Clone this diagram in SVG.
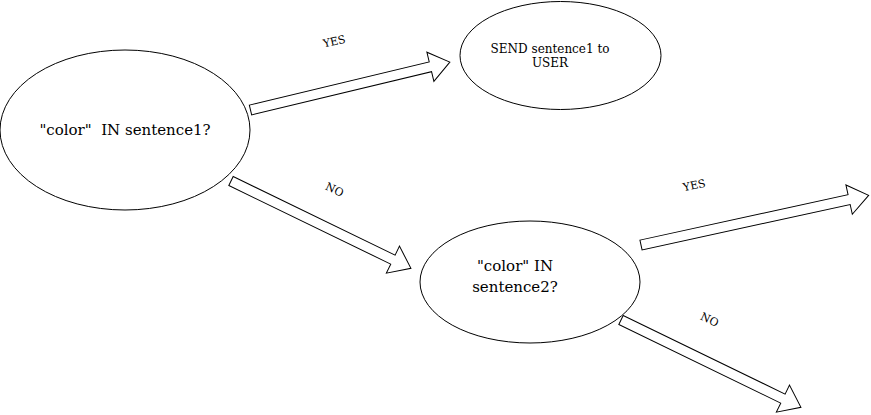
<svg xmlns="http://www.w3.org/2000/svg" width="871" height="415" viewBox="0 0 871 415">
<style>
.n{fill:#fff;stroke:#000;stroke-width:1}
.a{fill:#fff;stroke:#000;stroke-width:1}
.t{font-family:"DejaVu Serif",serif;fill:#000;text-anchor:middle}
.l{font-family:"DejaVu Serif",serif;fill:#000;font-size:11px;text-anchor:middle}
</style>
<defs>
<polygon id="arr200" points="0,-5 180,-5 180,-15 200,0 180,15 180,5 0,5"/>
<polygon id="arr233" points="0,-5 213,-5 213,-15 233,0 213,15 213,5 0,5"/>
<polygon id="arr205" points="0,-5 185,-5 185,-15 205,0 185,15 185,5 0,5"/>
</defs>
<rect width="871" height="415" fill="#fff"/>
<g id="connectors">
<use href="#arr205" class="a" transform="translate(250.5,110) rotate(-13.5)"/>
<use href="#arr200" class="a" transform="translate(231,181) rotate(25.9)"/>
<use href="#arr233" class="a" transform="translate(641,245) rotate(-12.3)"/>
<use href="#arr200" class="a" transform="translate(621,320) rotate(25.9)"/>
<text class="l" transform="translate(335,45) rotate(-13)">YES</text>
<text class="l" transform="translate(333,193) rotate(25)">NO</text>
<text class="l" transform="translate(695,189) rotate(-12)">YES</text>
<text class="l" transform="translate(708,323) rotate(25)">NO</text>
</g>
<g id="q1">
<ellipse class="n" cx="125" cy="130" rx="125" ry="80"/>
<text class="t" x="125" y="135" font-size="15" xml:space="preserve">"color"  IN sentence1?</text>
</g>
<g id="send">
<ellipse class="n" cx="560.5" cy="55.5" rx="100.5" ry="54"/>
<text class="t" x="550" y="53" font-size="12">SEND sentence1 to</text>
<text class="t" x="550" y="67" font-size="12">USER</text>
</g>
<g id="q2">
<ellipse class="n" cx="530" cy="282" rx="110" ry="61"/>
<text class="t" x="515" y="271" font-size="15">"color" IN</text>
<text class="t" x="515" y="292" font-size="15">sentence2?</text>
</g>
</svg>
